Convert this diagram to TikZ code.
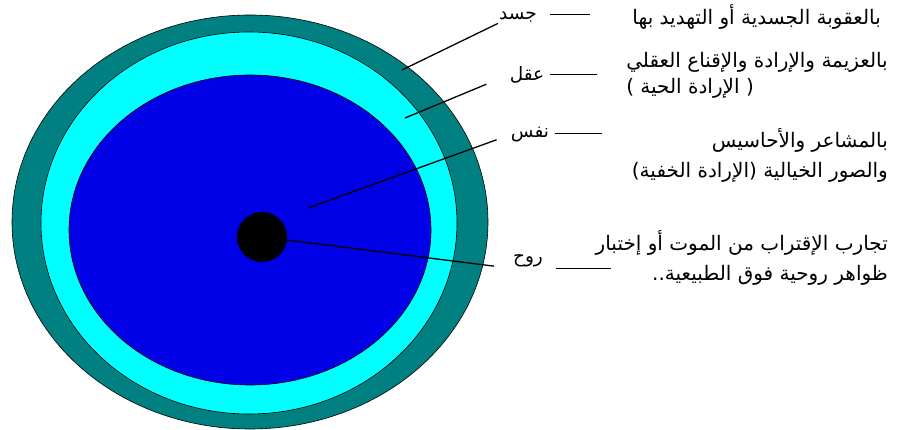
\documentclass[tikz,border=0pt]{standalone}
\usepackage{fontspec}
\usepackage{xcolor}
\usepackage{tikz}
\usetikzlibrary{positioning}
\newfontfamily\arabicfont[Script=Arabic]{DejaVu Sans}
\TeXXeTstate=1
\definecolor{jasadteal}{RGB}{0,128,128}
\definecolor{aqlcyan}{RGB}{0,255,255}
\definecolor{nafsblue}{RGB}{0,0,230}
\newcommand{\ar}[1]{\beginR #1\endR}

\begin{document}
\begin{tikzpicture}[x=1pt, y=-1pt,
  layer/.style={draw=black, line width=0.6pt},
  word/.style={font=\arabicfont\fontsize{18.5}{20}\selectfont, inner sep=1pt},
  desc/.style={font=\arabicfont\fontsize{20}{30}\selectfont, anchor=east,
               align=right, inner sep=0pt},
  leader/.style={line width=1.3pt},
  rule/.style={line width=0.9pt}]
\useasboundingbox (0,0) rectangle (897,430);
% nested layers
\filldraw[layer, fill=jasadteal] (250,222) ellipse [x radius=238, y radius=207];
\filldraw[layer, fill=aqlcyan] (249,223) ellipse [x radius=208, y radius=191];
\filldraw[layer, fill=nafsblue] (250,230) ellipse [x radius=181, y radius=155];
\node[circle, fill=black, minimum size=50pt, inner sep=0pt] (ruhdot) at (262,237) {};
\coordinate (jasadpt) at (402,70);
\coordinate (aqlpt) at (405,118);
\coordinate (nafspt) at (308,208);
% labels
\node[word] (jasad) at (518,17) {\ar{جسد}};
\node[word] (aql) at (527,75) {\ar{عقل}};
\node[word] (nafs) at (530,135) {\ar{نفس}};
\node[word] (ruh) at (528,261) {\ar{روح}};
\node[desc] (jasaddesc) at (881,17) {\ar{بالعقوبة الجسدية أو التهديد بها}};
\node[desc, align=left] (aqldesc) at (888,75)
  {\ar{بالعزيمة والإرادة والإقناع العقلي}\\[-4pt]\ar{( الإرادة الحية )}};
\node[desc] (nafsdesc) at (888,155)
  {\ar{بالمشاعر والأحاسيس}\\\ar{والصور الخيالية (الإرادة الخفية)}};
\node[desc] (ruhdesc) at (888,258)
  {\ar{تجارب الإقتراب من الموت أو إختبار}\\\ar{ظواهر روحية فوق الطبيعية..}};
% leaders
\draw[leader] (jasadpt) -- (jasad.south west);
\draw[leader, shorten >=24pt] (aqlpt) -- (aql.west);
\draw[leader, shorten >=14pt] (nafspt) -- (nafs.west);
\draw[leader, shorten >=18pt] (ruhdot) -- (ruh.south west);
\draw[rule] ([xshift=12pt,yshift=3pt]jasad.east) -- ([xshift=52pt,yshift=3pt]jasad.east);
\draw[rule] ([xshift=5pt,yshift=1pt]aql.east) -- ([xshift=52pt,yshift=1pt]aql.east);
\draw[rule] ([xshift=5pt,yshift=2pt]nafs.east) -- ([xshift=52pt,yshift=2pt]nafs.east);
\draw[rule] ([xshift=12pt]ruh.south east) -- ([xshift=67pt]ruh.south east);
\end{tikzpicture}
\end{document}
